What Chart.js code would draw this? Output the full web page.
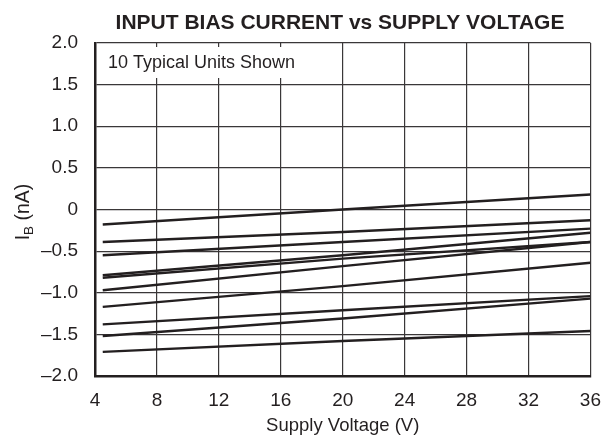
<!DOCTYPE html>
<html>
<head>
<meta charset="utf-8">
<script src="https://cdn.jsdelivr.net/npm/chart.js@4/dist/chart.umd.min.js"></script>
<style>
html,body{margin:0;padding:0;background:#fff;}
#wrap{width:614px;height:441px;position:relative;}
</style>
</head>
<body>
<div id="wrap"><canvas id="c" width="614" height="441"></canvas></div>
<script>
// ---- data ----
const voltages = [4.5, 20, 36];
const unit1  = [-0.18,  0.00,  0.18];
const unit2  = [-0.39, -0.27, -0.13];
const unit3  = [-0.55, -0.39, -0.23];
const unit4  = [-0.79, -0.55, -0.28];
const unit5  = [-0.82, -0.59, -0.39];
const unit6  = [-0.97, -0.68, -0.39];
const unit7  = [-1.17, -0.92, -0.64];
const unit8  = [-1.38, -1.21, -1.04];
const unit9  = [-1.52, -1.31, -1.07];
const unit10 = [-1.71, -1.58, -1.46];
const xTickLabels = ['4','8','12','16','20','24','28','32','36'];
const yTickLabels = ['\u20132.0','\u20131.5','\u20131.0','\u20130.5','0','0.5','1.0','1.5','2.0'];
const chartTitle = 'INPUT BIAS CURRENT vs SUPPLY VOLTAGE';
const xTitle = 'Supply Voltage (V)';
const noteText = '10 Typical Units Shown';

const INK = '#231f20';
const FONT = "'Liberation Sans', Arial, Helvetica, sans-serif";
const units = [unit1,unit2,unit3,unit4,unit5,unit6,unit7,unit8,unit9,unit10];

const datasets = units.map((u,i) => ({
  label: 'Unit ' + (i+1),
  data: voltages.map((v,k) => ({x: v, y: u[k]})),
  borderColor: INK,
  borderWidth: 2.4,
  pointRadius: 0,
  fill: false,
  tension: 0
}));

const decor = {
  id: 'decor',
  beforeDatasetsDraw(chart) {
    const ctx = chart.ctx;
    const a = chart.chartArea;
    ctx.save();
    ctx.fillStyle = '#fff';
    ctx.fillRect(a.left + 2, 47, 218, 31);
    ctx.fillStyle = INK;
    ctx.font = '18px ' + FONT;
    ctx.textAlign = 'left';
    ctx.textBaseline = 'alphabetic';
    ctx.fillText(noteText, 108, 68);
    ctx.restore();
  },
  afterDraw(chart) {
    const ctx = chart.ctx;
    ctx.save();
    ctx.fillStyle = INK;
    ctx.font = 'bold 21px ' + FONT;
    ctx.textAlign = 'center';
    ctx.textBaseline = 'middle';
    ctx.fillText(chartTitle, 340, 23);
    // y axis title with subscript
    ctx.translate(24, 212);
    ctx.rotate(-Math.PI/2);
    const main = '19.5px ' + FONT, sub = '13.5px ' + FONT;
    ctx.font = main; const wI = ctx.measureText('I').width;
    const wRest = ctx.measureText(' (nA)').width;
    ctx.font = sub; const wB = ctx.measureText('B').width;
    const total = wI + wB + wRest;
    let x = -total/2;
    ctx.textAlign = 'left';
    ctx.textBaseline = 'middle';
    ctx.font = main; ctx.fillText('I', x, 0); x += wI;
    ctx.font = sub; ctx.fillText('B', x, 5); x += wB;
    ctx.font = main; ctx.fillText(' (nA)', x, 0);
    ctx.restore();
  }
};

new Chart(document.getElementById('c'), {
  type: 'line',
  data: { datasets },
  options: {
    responsive: false,
    animation: false,
    devicePixelRatio: 1,
    layout: { padding: { left: 0, right: 23, top: 43, bottom: 0 } },
    plugins: { legend: { display: false }, tooltip: { enabled: false }, title: { display: false } },
    scales: {
      x: {
        type: 'linear',
        min: 4, max: 36,
        afterFit(s) { s.height = 65; },
        ticks: {
          stepSize: 4,
          padding: 13,
          color: INK,
          font: { family: FONT, size: 19 },
          maxRotation: 0,
          callback: (v, i) => xTickLabels[i]
        },
        grid: { color: '#3a3738', lineWidth: 1.2, drawTicks: false },
        border: { color: INK, width: 2.5 },
        title: { display: true, text: xTitle, color: INK, font: { family: FONT, size: 18.5 }, padding: { top: 0, bottom: 4 } }
      },
      y: {
        type: 'linear',
        min: -2, max: 2,
        afterFit(s) { s.width = 95; },
        ticks: {
          stepSize: 0.5,
          padding: 17,
          color: INK,
          font: { family: FONT, size: 19 },
          callback: (v, i) => yTickLabels[i]
        },
        grid: { color: '#3a3738', lineWidth: 1.2, drawTicks: false },
        border: { color: INK, width: 2.5 }
      }
    }
  },
  plugins: [decor]
});
</script>
</body>
</html>
